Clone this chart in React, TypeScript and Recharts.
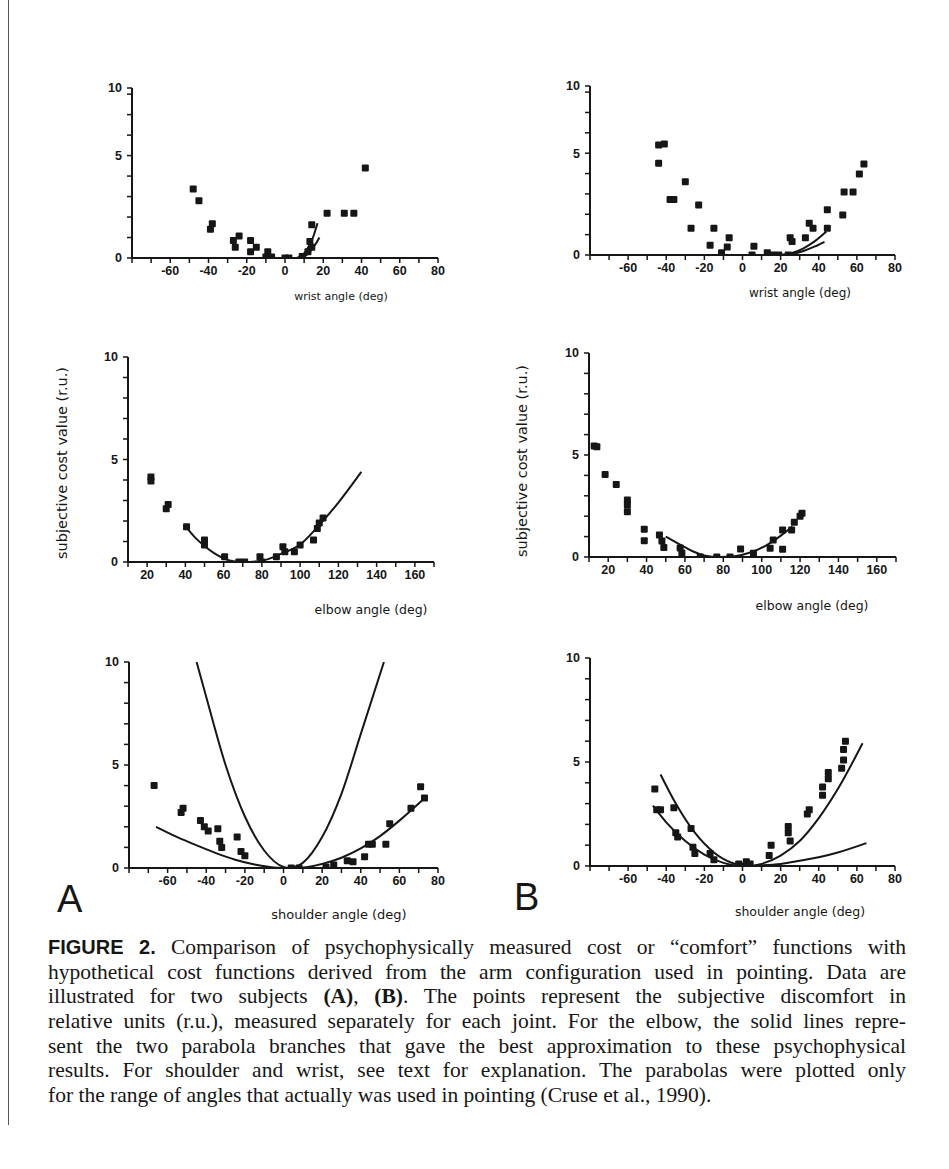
import React from "react";
import { ComposedChart, XAxis, YAxis, Scatter, Line } from "recharts";

type Pt = [number, number];

// angle ticks (every 10 deg), labelled every 20
const jointTicks = [-80, -70, -60, -50, -40, -30, -20, -10, 0, 10, 20, 30, 40, 50, 60, 70, 80];
const jointLabels = [-60, -40, -20, 0, 20, 40, 60, 80];
const elbowTicks = [10, 20, 30, 40, 50, 60, 70, 80, 90, 100, 110, 120, 130, 140, 150, 160, 170];
const elbowLabels = [20, 40, 60, 80, 100, 120, 140, 160];
const costTicks = [0, 1, 2, 3, 4, 5, 6, 7, 8, 9, 10];
const costLabels = [0, 5, 10];
// the wrist panels are cut off above ~8.3 and the top is marked "10"
const wristTop = 8.3;
const wristTicks = [0, 1, 2, 3, 4, 5, 6, 7, 8, 8.3];

// subject A
const wristA: Pt[] = [
  [-48, 3.37], [-45, 2.8], [-38, 1.67], [-39, 1.4], [-24, 1.08], [-27, 0.85], [-26, 0.52],
  [-18, 0.85], [-18, 0.31], [-15, 0.52], [-9, 0.31], [-10, 0.05], [-7, 0.05], [0, 0], [2, 0],
  [9, 0.07], [12, 0.3], [14, 0.52], [13, 0.8], [14, 1.62], [22, 2.19], [31, 2.19], [36, 2.19], [42, 4.4],
];
const wristACurve1: Pt[] = [[6, 0], [9, 0.13], [12, 0.5], [15, 1.1], [17, 1.7]];
const wristACurve2: Pt[] = [[7, 0], [10, 0.07], [13, 0.3], [16, 0.68], [18, 1.0]];

const elbowA: Pt[] = [
  [22, 4.15], [22, 3.95], [30, 2.6], [31, 2.8], [40.6, 1.72], [50, 1.07], [50, 0.83], [60.5, 0.26],
  [68, 0], [71, 0], [79, 0.26], [80, 0], [87.6, 0.26], [91, 0.75], [92, 0.5], [97, 0.5], [100, 0.83],
  [107, 1.07], [109, 1.64], [110, 1.9], [112, 2.15],
];
const elbowACurve: Pt[] = [
  [40, 1.75], [45, 1.2], [50, 0.78], [55, 0.43], [60, 0.18], [65, 0.04], [70, 0], [80, 0.06],
  [90, 0.4], [100, 0.85], [110, 1.8], [120, 2.9], [132, 4.4],
];

const shoulderA: Pt[] = [
  [-67, 4.0], [-52, 2.9], [-53, 2.7], [-43, 2.3], [-41, 2.0], [-39, 1.8], [-34, 1.9], [-33, 1.3],
  [-32, 1.0], [-24, 1.5], [-22, 0.8], [-20, 0.6], [4, 0], [8, 0], [22, 0.05], [26, 0.15], [33, 0.35],
  [36, 0.3], [42, 0.55], [44, 1.15], [46, 1.15], [53, 1.15], [55, 2.15], [66, 2.9], [71, 3.95], [73, 3.4],
];
const shoulderASteep: Pt[] = [
  [-45, 10], [-40, 8.3], [-30, 5.0], [-20, 2.5], [-10, 0.85], [0, 0.05], [3, 0], [10, 0.25],
  [20, 1.5], [30, 3.6], [40, 6.5], [52, 10],
];
const shoulderAFlat: Pt[] = [
  [-66, 2.0], [-55, 1.5], [-45, 1.1], [-35, 0.72], [-25, 0.4], [-15, 0.17], [-5, 0.03], [3, 0],
  [10, 0.02], [20, 0.2], [30, 0.5], [40, 0.95], [50, 1.55], [60, 2.3], [72, 3.3],
];

// subject B
const wristB: Pt[] = [
  [-44, 5.4], [-41, 5.45], [-44, 4.5], [-30, 3.6], [-38, 2.72], [-36, 2.72], [-23, 2.46], [-27, 1.31],
  [-15, 1.31], [-17, 0.48], [-7, 0.85], [-8, 0.39], [-11, 0.11], [6, 0.43], [5, 0], [13, 0.11], [16, 0],
  [19, 0], [24, 0], [25, 0.85], [26, 0.66], [33, 0.85], [35, 1.56], [37, 1.31], [44.5, 2.22], [44.5, 1.31],
  [52.6, 1.96], [53.3, 3.09], [58, 3.09], [61.3, 3.98], [63.7, 4.47],
];
const wristBCurve1: Pt[] = [[20, 0], [26, 0.1], [32, 0.33], [38, 0.68], [44, 1.15]];
const wristBCurve2: Pt[] = [[20, 0], [26, 0.06], [32, 0.2], [38, 0.42], [43, 0.65]];

const elbowB: Pt[] = [
  [12.7, 5.44], [14.1, 5.41], [18.4, 4.05], [24.2, 3.56], [30, 2.79], [30, 2.55], [30, 2.22],
  [38.8, 1.36], [38.8, 0.8], [46.7, 1.08], [48, 0.78], [49, 0.46], [57.5, 0.44], [58.4, 0.2], [68, 0],
  [76.6, 0], [83.5, 0], [89, 0.39], [95.7, 0.18], [104.4, 0.43], [106, 0.83], [110.9, 0.38],
  [110.9, 1.32], [115.6, 1.32], [117, 1.7], [120, 2.0], [121, 2.15],
];
const elbowBCurve: Pt[] = [
  [50, 1.0], [58, 0.58], [64, 0.28], [70, 0.08], [78, 0], [86, 0.04], [94, 0.22], [102, 0.55],
  [110, 1.05], [116, 1.5],
];

const shoulderB: Pt[] = [
  [-46, 3.7], [-45, 2.7], [-43, 2.7], [-36, 2.8], [-35, 1.6], [-34, 1.4], [-27, 1.8], [-26, 0.9],
  [-25, 0.6], [-17, 0.6], [-15, 0.3], [-2, 0.1], [0, 0], [2, 0.2], [4, 0.1], [14, 0.5], [15, 1.0],
  [24, 1.6], [24, 1.9], [25, 1.2], [34, 2.5], [35, 2.7], [42, 3.4], [42, 3.8], [45, 4.2], [45, 4.5],
  [52, 4.7], [53, 5.1], [53, 5.6], [54, 6.0],
];
const shoulderBCurve1: Pt[] = [
  [-43, 4.4], [-35, 3.0], [-25, 1.6], [-15, 0.65], [-5, 0.13], [3, 0], [10, 0.1], [20, 0.5],
  [30, 1.2], [40, 2.3], [50, 3.7], [63, 5.9],
];
const shoulderBCurve2: Pt[] = [
  [-47, 2.9], [-40, 2.1], [-30, 1.2], [-20, 0.55], [-10, 0.15], [0, 0], [10, 0.03], [20, 0.1],
  [30, 0.25], [40, 0.42], [50, 0.65], [65, 1.1],
];

const toRows = (pts: Pt[]) => pts.map(([x, y]) => ({ x, y }));

const INK = "#161616";
const tickFont = { fontFamily: "Liberation Sans", fontSize: 12.5, fontWeight: 700, fill: INK };

const Square = (props: any) => {
  const { cx, cy } = props;
  if (cx == null || cy == null) return null;
  return <rect x={cx - 3.5} y={cy - 3.5} width={7} height={7} rx={1} fill={INK} />;
};

type PanelProps = {
  left: number;
  top: number;
  plotW: number;
  plotH: number;
  xDomain: [number, number];
  xTicks: number[];
  xLabels: number[];
  yDomain: [number, number];
  yTicks: number[];
  yFormat: (v: number) => string;
  points: Pt[];
  curves: Pt[][];
};

const ML = 50;
const MR = 14;
const MT = 12;
const MB = 30;

const Panel = ({ left, top, plotW, plotH, xDomain, xTicks, xLabels, yDomain, yTicks, yFormat, points, curves }: PanelProps) => (
  <div style={{ position: "absolute", left: left - ML, top: top - MT }}>
    <ComposedChart width={plotW + ML + MR} height={plotH + MT + MB} margin={{ top: MT, right: MR, bottom: 0, left: 0 }}>
      <XAxis
        type="number"
        dataKey="x"
        domain={xDomain}
        ticks={xTicks}
        interval={0}
        allowDataOverflow
        height={MB}
        tickSize={5}
        tickMargin={3}
        tick={tickFont}
        tickFormatter={(v: number) => (xLabels.includes(v) ? String(v) : "")}
        axisLine={{ stroke: INK, strokeWidth: 2 }}
        tickLine={{ stroke: INK, strokeWidth: 1.5 }}
      />
      <YAxis
        type="number"
        dataKey="y"
        domain={yDomain}
        ticks={yTicks}
        interval={0}
        allowDataOverflow
        width={ML}
        tickSize={5}
        tickMargin={5}
        tick={tickFont}
        tickFormatter={yFormat}
        axisLine={{ stroke: INK, strokeWidth: 2 }}
        tickLine={{ stroke: INK, strokeWidth: 1.5 }}
      />
      {curves.map((c, i) => (
        <Line
          key={i}
          data={toRows(c)}
          dataKey="y"
          type="monotone"
          dot={false}
          stroke={INK}
          strokeWidth={2}
          isAnimationActive={false}
        />
      ))}
      <Scatter data={toRows(points)} dataKey="y" shape={Square} isAnimationActive={false} />
    </ComposedChart>
  </div>
);

const costFormat = (v: number) => (costLabels.includes(v) ? String(v) : "");
const wristFormat = (v: number) => (v === wristTop ? "10" : v === 0 || v === 5 ? String(v) : "");

const Title = ({ x, y, text, size, rotate }: { x: number; y: number; text: string; size: number; rotate?: boolean }) => (
  <div
    style={{
      position: "absolute",
      left: x,
      top: y,
      fontFamily: "DejaVu Sans",
      fontSize: size,
      color: INK,
      whiteSpace: "nowrap",
      transform: rotate ? "translate(-50%, -50%) rotate(-90deg)" : "translate(-50%, -50%)",
    }}
  >
    {text}
  </div>
);

const captionLines = [
  "hypothetical cost functions derived from the arm configuration used in pointing. Data are",
  "illustrated for two subjects (A), (B). The points represent the subjective discomfort in",
  "relative units (r.u.), measured separately for each joint. For the elbow, the solid lines repre-",
  "sent the two parabola branches that gave the best approximation to these psychophysical",
  "results. For shoulder and wrist, see text for explanation. The parabolas were plotted only",
];

const lineStyle: React.CSSProperties = {
  height: 24.7,
  lineHeight: "24.7px",
  textAlign: "justify",
  textAlignLast: "justify",
  whiteSpace: "nowrap",
};

const App = () => {
  return (
    <div style={{ position: "absolute", left: 0, top: 0, width: 949, height: 1169, background: "#fff", overflow: "hidden" }}>
      <div style={{ position: "absolute", left: 8, top: 0, width: 1, height: 1125, background: "#555" }} />

      <Panel left={132} top={88} plotW={306} plotH={170} xDomain={[-80, 80]} xTicks={jointTicks} xLabels={jointLabels}
        yDomain={[0, wristTop]} yTicks={wristTicks} yFormat={wristFormat} points={wristA} curves={[wristACurve1, wristACurve2]} />
      <Panel left={590} top={86} plotW={305} plotH={169} xDomain={[-80, 80]} xTicks={jointTicks} xLabels={jointLabels}
        yDomain={[0, wristTop]} yTicks={wristTicks} yFormat={wristFormat} points={wristB} curves={[wristBCurve1, wristBCurve2]} />

      <Panel left={128} top={357} plotW={306} plotH={205} xDomain={[10, 170]} xTicks={elbowTicks} xLabels={elbowLabels}
        yDomain={[0, 10]} yTicks={costTicks} yFormat={costFormat} points={elbowA} curves={[elbowACurve]} />
      <Panel left={589} top={353} plotW={307} plotH={204} xDomain={[10, 170]} xTicks={elbowTicks} xLabels={elbowLabels}
        yDomain={[0, 10]} yTicks={costTicks} yFormat={costFormat} points={elbowB} curves={[elbowBCurve]} />

      <Panel left={129} top={662} plotW={309} plotH={206} xDomain={[-80, 80]} xTicks={jointTicks} xLabels={jointLabels}
        yDomain={[0, 10]} yTicks={costTicks} yFormat={costFormat} points={shoulderA} curves={[shoulderASteep, shoulderAFlat]} />
      <Panel left={590} top={658} plotW={305} plotH={208} xDomain={[-80, 80]} xTicks={jointTicks} xLabels={jointLabels}
        yDomain={[0, 10]} yTicks={costTicks} yFormat={costFormat} points={shoulderB} curves={[shoulderBCurve1, shoulderBCurve2]} />

      <Title x={341} y={296} size={11} text="wrist angle (deg)" />
      <Title x={800} y={293} size={12} text="wrist angle (deg)" />
      <Title x={371} y={609} size={12.5} text="elbow angle (deg)" />
      <Title x={812} y={605} size={12.5} text="elbow angle (deg)" />
      <Title x={339} y={914} size={13} text="shoulder angle (deg)" />
      <Title x={800} y={911} size={12.5} text="shoulder angle (deg)" />
      <Title x={62} y={463} size={14.5} text="subjective cost value (r.u.)" rotate />
      <Title x={522} y={461} size={14.5} text="subjective cost value (r.u.)" rotate />

      <div style={{ position: "absolute", left: 57, top: 879, fontFamily: "Liberation Sans", fontSize: 38, color: INK, lineHeight: "40px" }}>A</div>
      <div style={{ position: "absolute", left: 514, top: 877, fontFamily: "Liberation Sans", fontSize: 38, color: INK, lineHeight: "40px" }}>B</div>

      <div style={{ position: "absolute", left: 48, top: 935, width: 858, fontFamily: "Liberation Serif", fontSize: 21.5, color: INK }}>
        <div style={lineStyle}>
          <b style={{ fontFamily: "Liberation Sans", fontSize: 20 }}>FIGURE 2.</b> Comparison of psychophysically measured cost or “comfort” functions with
        </div>
        {captionLines.map((l, i) => (
          <div key={i} style={lineStyle}>
            {i === 1 ? (
              <>illustrated for two subjects <b>(A)</b>, <b>(B)</b>. The points represent the subjective discomfort in</>
            ) : (
              l
            )}
          </div>
        ))}
        <div style={{ ...lineStyle, textAlignLast: "left" }}>
          for the range of angles that actually was used in pointing (Cruse et al., 1990).
        </div>
      </div>
    </div>
  );
};

export default App;
